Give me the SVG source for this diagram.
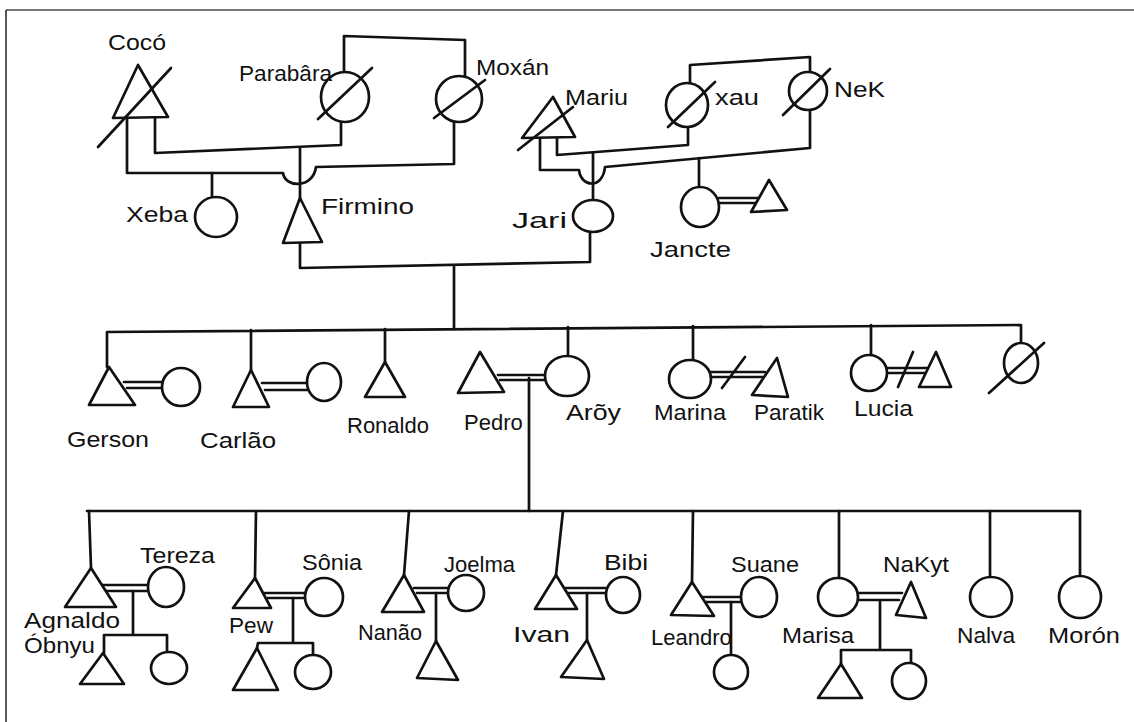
<svg xmlns="http://www.w3.org/2000/svg" width="1134" height="722" viewBox="0 0 1134 722">
  <style>
    .ln { fill: none; stroke: #111; stroke-width: 2.7; stroke-linecap: round; stroke-linejoin: round; }
    .sh { fill: #fff; stroke: #111; stroke-width: 2.7; stroke-linejoin: round; }
    .lb { font-family: "Liberation Sans", "DejaVu Sans", sans-serif; font-size: 22px; fill: #111; }
  </style>
  <rect width="1134" height="722" fill="#fff"/>
  <!-- page frame -->
  <line x1="6" y1="10" x2="1134" y2="10" stroke="#777" stroke-width="2"/>
  <line x1="6" y1="10" x2="6" y2="722" stroke="#222" stroke-width="1.5"/>

  <g id="connectors" class="ln">
    <!-- Parabâra / Moxán sibling bracket -->
    <path d="M344,72 L344,36 L465,40 L465,76"/>
    <!-- Cocó = Parabâra -->
    <path d="M155,118 L155,153 L341,145 L341,122"/>
    <!-- Cocó = Moxán, hopping over Firmino's line -->
    <path d="M127,118 L127,173 L283,173 C285,188 313,189 316,167 L454,164 L454,121"/>
    <!-- Firmino descent -->
    <path d="M300,148 L300,199"/>
    <!-- Xeba descent -->
    <path d="M212,173 L212,197"/>
    <!-- Xau / NeK sibling bracket -->
    <path d="M690,84 L690,65 L810,57 L810,72"/>
    <!-- Mariu = Xau -->
    <path d="M557,138 L557,155 L688,145 L688,127"/>
    <!-- Mariu = NeK, hopping over Jari's line -->
    <path d="M540,138 L540,170 L579,170 C581,188 603,189 605,167 L810,148 L810,110"/>
    <!-- Jari descent -->
    <path d="M593,153 L593,201"/>
    <!-- Jancte descent -->
    <path d="M699,158 L699,188"/>
    <!-- Jancte = husband -->
    <path d="M719,198 L760,198 M719,203 L758,203"/>
    <!-- Firmino = Jari -->
    <path d="M300,243 L300,268 L590,262 L590,231"/>
    <path d="M454,266 L454,328"/>

    <!-- second generation sibling line -->
    <path d="M107,332 L107,367 M107,332 L1021,325 L1021,343"/>
    <path d="M251,330 L251,370"/>
    <path d="M385,329 L385,362"/>
    <path d="M568,327 L568,355"/>
    <path d="M693,326 L693,360"/>
    <path d="M871,325 L871,355"/>
    <!-- marriages, second generation -->
    <path d="M124,382 L163,382 M127,388 L163,388"/>
    <path d="M262,383 L308,383 M265,390 L308,390"/>
    <path d="M498,375 L546,375 M500,380 L546,380"/>
    <path d="M711,372 L765,372 M711,377 L763,377"/>
    <path d="M722,388 L745,357"/>
    <path d="M887,368 L928,368 M887,373 L925,373"/>
    <path d="M898,387 L913,352"/>
    <!-- Pedro = Arõy descent -->
    <path d="M529,378 L529,511"/>

    <!-- third generation sibling line -->
    <path d="M87,511 L1080,511"/>
    <path d="M89,511 L91,568"/>
    <path d="M256,511 L255,578"/>
    <path d="M409,511 L404,575"/>
    <path d="M563,511 L556,575"/>
    <path d="M693,511 L692,582"/>
    <path d="M839,511 L839,578"/>
    <path d="M990,511 L990,577"/>
    <path d="M1080,511 L1080,576"/>
    <!-- marriages, third generation -->
    <path d="M102,585 L149,585 M105,591 L149,591"/>
    <path d="M265,593 L306,593 M268,598 L306,598"/>
    <path d="M414,588 L449,588 M417,593 L449,593"/>
    <path d="M565,588 L606,588 M568,593 L606,593"/>
    <path d="M703,597 L742,597 M706,602 L742,602"/>
    <path d="M858,593 L902,593 M858,600 L899,600"/>
    <!-- children of the third generation couples -->
    <path d="M133,591 L133,635 M104,635 L167,635 M104,635 L104,653 M167,635 L167,652"/>
    <path d="M293,598 L293,643 M258,643 L313,643 M258,643 L257,648 M313,643 L313,655"/>
    <path d="M436,593 L436,641"/>
    <path d="M587,593 L587,640"/>
    <path d="M731,602 L731,655"/>
    <path d="M880,600 L880,650 M841,650 L911,650 M841,650 L841,664 M911,650 L911,663"/>
  </g>

  <!-- first generation -->
  <g id="coco">
    <polygon class="sh" points="138,65 113,118 168,117"/>
    <path class="ln" d="M98,147 L171,68"/>
    <text class="lb" x="108" y="50" font-size="24" textLength="58" lengthAdjust="spacingAndGlyphs">Cocó</text>
  </g>
  <g id="parabara">
    <ellipse class="sh" cx="345" cy="97" rx="24" ry="25"/>
    <path class="ln" d="M318,119 L372,68"/>
    <text class="lb" x="239" y="81" font-size="22" textLength="93" lengthAdjust="spacingAndGlyphs">Parabâra</text>
  </g>
  <g id="moxan">
    <ellipse class="sh" cx="459" cy="99" rx="23" ry="23"/>
    <path class="ln" d="M434,118 L485,80"/>
    <text class="lb" x="476" y="75" font-size="22" textLength="73" lengthAdjust="spacingAndGlyphs">Moxán</text>
  </g>
  <g id="xeba">
    <ellipse class="sh" cx="216" cy="217" rx="21" ry="20"/>
    <text class="lb" x="126" y="222" font-size="24" textLength="62" lengthAdjust="spacingAndGlyphs">Xeba</text>
  </g>
  <g id="firmino">
    <polygon class="sh" points="300,198 283,243 322,242"/>
    <text class="lb" x="321" y="214" font-size="24" textLength="93" lengthAdjust="spacingAndGlyphs">Firmino</text>
  </g>
  <g id="mariu">
    <polygon class="sh" points="553,97 522,138 575,137"/>
    <path class="ln" d="M518,150 L573,107"/>
    <text class="lb" x="565" y="105" font-size="22" textLength="63" lengthAdjust="spacingAndGlyphs">Mariu</text>
  </g>
  <g id="xau">
    <ellipse class="sh" cx="687" cy="105" rx="21" ry="22"/>
    <path class="ln" d="M668,127 L715,82"/>
    <text class="lb" x="715" y="105" font-size="23" textLength="44" lengthAdjust="spacingAndGlyphs">xau</text>
  </g>
  <g id="nek">
    <ellipse class="sh" cx="808" cy="91" rx="19" ry="19"/>
    <path class="ln" d="M783,115 L830,69"/>
    <text class="lb" x="834" y="97" font-size="24" textLength="51" lengthAdjust="spacingAndGlyphs">NeK</text>
  </g>
  <g id="jari">
    <ellipse class="sh" cx="593" cy="216" rx="20" ry="16"/>
    <text class="lb" x="512" y="228" font-size="24" textLength="55" lengthAdjust="spacingAndGlyphs">Jari</text>
  </g>
  <g id="jancte">
    <ellipse class="sh" cx="700" cy="207" rx="19" ry="20"/>
    <text class="lb" x="650" y="257" font-size="24" textLength="81" lengthAdjust="spacingAndGlyphs">Jancte</text>
  </g>
  <g id="jancte-husband">
    <polygon class="sh" points="769,180 751,212 787,210"/>
  </g>

  <!-- second generation -->
  <g id="gerson">
    <polygon class="sh" points="109,367 89,405 135,405"/>
    <text class="lb" x="67" y="447" font-size="24" textLength="82" lengthAdjust="spacingAndGlyphs">Gerson</text>
  </g>
  <g id="gerson-wife"><ellipse class="sh" cx="181" cy="387" rx="19" ry="19"/></g>
  <g id="carlao">
    <polygon class="sh" points="251,370 233,407 269,407"/>
    <text class="lb" x="200" y="448" font-size="24" textLength="76" lengthAdjust="spacingAndGlyphs">Carlão</text>
  </g>
  <g id="carlao-wife"><ellipse class="sh" cx="324" cy="382" rx="17" ry="19"/></g>
  <g id="ronaldo">
    <polygon class="sh" points="385,362 365,397 405,397"/>
    <text class="lb" x="347" y="433" font-size="23">Ronaldo</text>
  </g>
  <g id="pedro">
    <polygon class="sh" points="480,352 458,393 504,392"/>
    <text class="lb" x="464" y="430" font-size="21">Pedro</text>
  </g>
  <g id="aroy">
    <ellipse class="sh" cx="567" cy="376" rx="22" ry="20"/>
    <text class="lb" x="566" y="420" font-size="24" textLength="55" lengthAdjust="spacingAndGlyphs">Arõy</text>
  </g>
  <g id="marina">
    <ellipse class="sh" cx="690" cy="379" rx="21" ry="19"/>
    <text class="lb" x="654" y="420" font-size="22" textLength="72" lengthAdjust="spacingAndGlyphs">Marina</text>
  </g>
  <g id="paratik">
    <polygon class="sh" points="777,358 752,395 788,397"/>
    <text class="lb" x="754" y="420" font-size="22" textLength="70" lengthAdjust="spacingAndGlyphs">Paratik</text>
  </g>
  <g id="lucia">
    <ellipse class="sh" cx="869" cy="373" rx="18" ry="18"/>
    <text class="lb" x="854" y="416" font-size="22" textLength="59" lengthAdjust="spacingAndGlyphs">Lucia</text>
  </g>
  <g id="lucia-husband"><polygon class="sh" points="936,352 919,387 951,387"/></g>
  <g id="deceased-sister">
    <ellipse class="sh" cx="1021" cy="363" rx="17" ry="20"/>
    <path class="ln" d="M989,393 L1044,343"/>
  </g>

  <!-- third generation -->
  <g id="agnaldo">
    <polygon class="sh" points="91,568 65,607 116,607"/>
    <text class="lb" x="24" y="628" font-size="21" textLength="96" lengthAdjust="spacingAndGlyphs">Agnaldo</text>
    <text class="lb" x="24" y="653" font-size="21" textLength="71" lengthAdjust="spacingAndGlyphs">Óbnyu</text>
  </g>
  <g id="tereza">
    <ellipse class="sh" cx="166" cy="587" rx="18" ry="20"/>
    <text class="lb" x="140" y="563" font-size="21" textLength="75" lengthAdjust="spacingAndGlyphs">Tereza</text>
  </g>
  <g id="agnaldo-son"><polygon class="sh" points="103,653 80,684 124,684"/></g>
  <g id="agnaldo-daughter"><ellipse class="sh" cx="169" cy="668" rx="18" ry="16"/></g>
  <g id="pew">
    <polygon class="sh" points="255,578 233,608 271,608"/>
    <text class="lb" x="229" y="633" font-size="21" textLength="44" lengthAdjust="spacingAndGlyphs">Pew</text>
  </g>
  <g id="sonia">
    <ellipse class="sh" cx="324" cy="597" rx="19" ry="19"/>
    <text class="lb" x="302" y="570" font-size="21" textLength="60" lengthAdjust="spacingAndGlyphs">Sônia</text>
  </g>
  <g id="pew-son"><polygon class="sh" points="257,648 233,690 278,690"/></g>
  <g id="pew-daughter"><ellipse class="sh" cx="313" cy="672" rx="18" ry="17"/></g>
  <g id="nanao">
    <polygon class="sh" points="404,575 382,612 424,612"/>
    <text class="lb" x="358" y="640" font-size="21" textLength="64" lengthAdjust="spacingAndGlyphs">Nanão</text>
  </g>
  <g id="joelma">
    <ellipse class="sh" cx="466" cy="593" rx="18" ry="18"/>
    <text class="lb" x="444" y="572" font-size="21" textLength="71" lengthAdjust="spacingAndGlyphs">Joelma</text>
  </g>
  <g id="nanao-son"><polygon class="sh" points="436,641 417,678 458,680"/></g>
  <g id="ivan">
    <polygon class="sh" points="556,575 535,609 577,609"/>
    <text class="lb" x="513" y="642" font-size="24" textLength="57" lengthAdjust="spacingAndGlyphs">Ivan</text>
  </g>
  <g id="bibi">
    <ellipse class="sh" cx="623" cy="595" rx="17" ry="18"/>
    <text class="lb" x="604" y="570" font-size="22" textLength="44" lengthAdjust="spacingAndGlyphs">Bibi</text>
  </g>
  <g id="ivan-son"><polygon class="sh" points="587,640 561,677 604,679"/></g>
  <g id="leandro">
    <polygon class="sh" points="692,582 671,615 714,616"/>
    <text class="lb" x="651" y="645" font-size="21">Leandro</text>
  </g>
  <g id="suane">
    <ellipse class="sh" cx="759" cy="597" rx="18" ry="20"/>
    <text class="lb" x="731" y="572" font-size="21" textLength="68" lengthAdjust="spacingAndGlyphs">Suane</text>
  </g>
  <g id="leandro-daughter"><ellipse class="sh" cx="731" cy="672" rx="17" ry="17"/></g>
  <g id="marisa">
    <ellipse class="sh" cx="838" cy="597" rx="20" ry="19"/>
    <text class="lb" x="782" y="643" font-size="22" textLength="72" lengthAdjust="spacingAndGlyphs">Marisa</text>
  </g>
  <g id="nakyt">
    <polygon class="sh" points="911,582 896,615 926,618"/>
    <text class="lb" x="883" y="572" font-size="22" textLength="66" lengthAdjust="spacingAndGlyphs">NaKyt</text>
  </g>
  <g id="marisa-son"><polygon class="sh" points="841,664 818,698 862,698"/></g>
  <g id="marisa-daughter"><ellipse class="sh" cx="909" cy="681" rx="17" ry="18"/></g>
  <g id="nalva">
    <ellipse class="sh" cx="991" cy="597" rx="21" ry="20"/>
    <text class="lb" x="957" y="643" font-size="22" textLength="58" lengthAdjust="spacingAndGlyphs">Nalva</text>
  </g>
  <g id="moron">
    <ellipse class="sh" cx="1080" cy="597" rx="21" ry="21"/>
    <text class="lb" x="1048" y="643" font-size="22" textLength="72" lengthAdjust="spacingAndGlyphs">Morón</text>
  </g>
</svg>
